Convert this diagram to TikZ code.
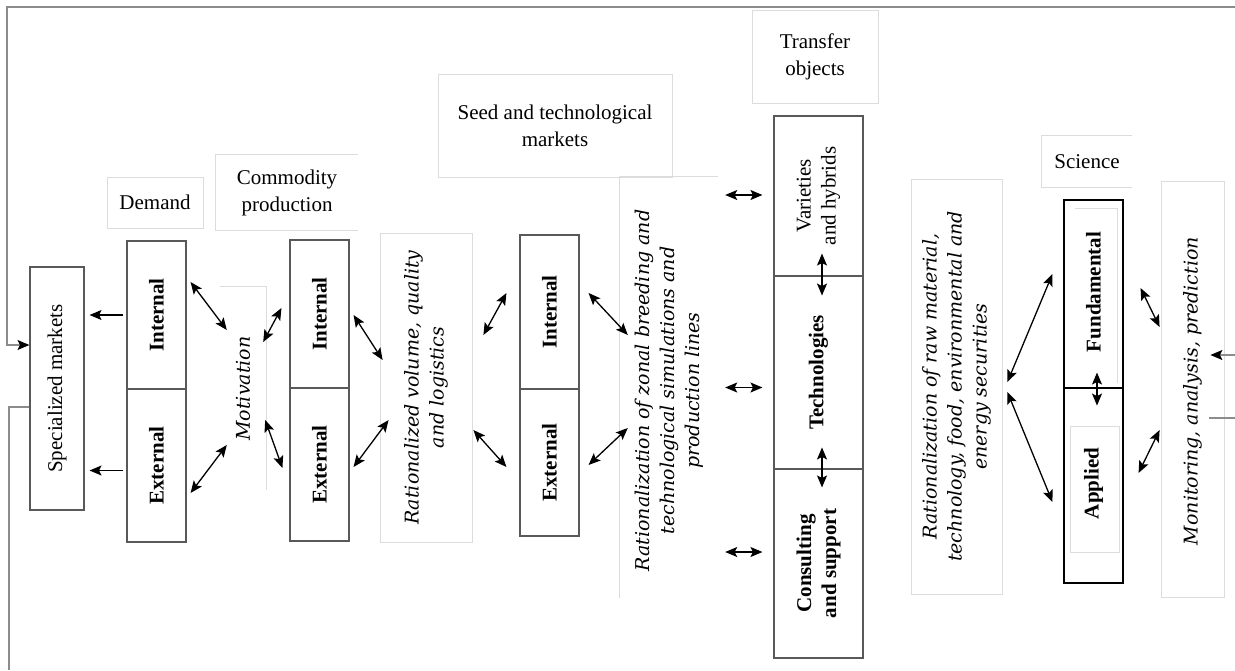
\documentclass[tikz,border=0pt]{standalone}
\usepackage{fontspec}
\setmainfont{Liberation Serif}
\newfontfamily\notefont{DejaVu Serif}
\usepackage{tikz}
\usetikzlibrary{arrows.meta, calc}
\usepackage{xcolor}
\definecolor{cellgray}{HTML}{595959}
\definecolor{tagline}{HTML}{DCDCDC}
\definecolor{frameline}{HTML}{8C8C8C}

\begin{document}
\begin{tikzpicture}[x=1pt, y=-1pt,
  >={Stealth[length=12pt, width=10pt, inset=2.5pt]},
  cell/.style={draw=cellgray, line width=1.1pt, inner sep=0pt},
  tag/.style={draw=tagline, line width=0.8pt, align=center,
    font=\fontsize{21}{27}\selectfont},
  vtext/.style={rotate=90, align=center, font=\fontsize{21}{25}\selectfont},
  vbold/.style={rotate=90, align=center,
    font=\fontsize{21}{25}\selectfont\bfseries},
  vnote/.style={rotate=90, align=center,
    font=\notefont\itshape\fontsize{19}{25}\selectfont},
  faint/.style={draw=tagline, line width=0.8pt},
  link/.style={<->, line width=1.3pt},
  loopline/.style={draw=frameline, line width=1.4pt}]
  \useasboundingbox (0,0) rectangle (1235,670);

  % Headings
  \node[tag, minimum width=96, minimum height=51] (demtag) at (155,202.5)
    {Demand};
  \node[tag, draw=none, minimum width=142, minimum height=75] (comtag)
    at (287,192.5) {Commodity\\production};
  \draw[faint] (comtag.north east) -- (comtag.north west)
    -- (comtag.south west) -- (comtag.south east);
  \node[tag, minimum width=234, minimum height=103] (seedtag) at (555,125.5)
    {Seed and technological\\markets};
  \node[tag, minimum width=126, minimum height=93] (trtag) at (815,56.5)
    {Transfer\\objects};
  \node[tag, draw=none, minimum width=90, minimum height=51] (scitag)
    at (1087,161.5) {Science};
  \draw[faint] (scitag.north east) -- (scitag.north west)
    -- (scitag.south west) -- (scitag.south east);

  % Markets and production
  \node[cell, minimum width=54, minimum height=243,
    label={[vtext]center:Specialized markets}] (spec) at (57,388.5) {};
  \node[cell, minimum width=59, minimum height=148,
    label={[vbold]center:Internal}] (demin) at (156.5,315) {};
  \node[cell, minimum width=59, minimum height=153,
    label={[vbold]center:External}] (demex) at (156.5,465.5) {};
  \node[inner sep=0pt, minimum width=46, minimum height=203,
    label={[vnote]center:Motivation}] (mot) at (243,388.5) {};
  \draw[faint] (mot.north west) -- (mot.north east) -- (mot.south east);
  \node[cell, minimum width=59, minimum height=148,
    label={[vbold]center:Internal}] (comin) at (319.5,314) {};
  \node[cell, minimum width=59, minimum height=153,
    label={[vbold]center:External}] (comex) at (319.5,464.5) {};
  \node[faint, inner sep=0pt, minimum width=92, minimum height=309,
    label={[vnote]center:Rationalized volume, quality\\and logistics}]
    (ratvol) at (426,387.5) {};
  \node[cell, minimum width=59, minimum height=154,
    label={[vbold]center:Internal}] (seedin) at (549.5,312) {};
  \node[cell, minimum width=59, minimum height=147,
    label={[vbold]center:External}] (seedex) at (549.5,462.5) {};
  \node[inner sep=0pt, minimum width=98, minimum height=421,
    label={[vnote, xshift=-3pt]center:Rationalization of zonal breeding and\\
      technological simulations and\\production lines}] (zonal)
    at (669,387.5) {};
  \draw[faint] (zonal.north east) -- (zonal.north west) -- (zonal.south west);

  % Transfer objects
  \node[cell, minimum width=89, minimum height=160,
    label={[vtext]center:Varieties\\and hybrids}] (trvar) at (818.5,196) {};
  \node[cell, minimum width=89, minimum height=193,
    label={[vbold]center:Technologies}] (trtech) at (818.5,372.5) {};
  \node[cell, minimum width=89, minimum height=189,
    label={[vbold]center:Consulting\\and support}] (trcons) at (818.5,563.5) {};

  % Science
  \node[faint, inner sep=0pt, minimum width=91, minimum height=415,
    label={[vnote]center:Rationalization of raw material,\\
      technology, food, environmental and\\energy securities}] (ratsci)
    at (956.5,386.5) {};
  \node[cell, draw=black, minimum width=59, minimum height=188,
    label={[vbold, xshift=2pt]center:Fundamental}] (scfund) at (1093.5,294) {};
  \node[cell, draw=black, minimum width=59, minimum height=195,
    label={[vbold, xshift=2pt]center:Applied}] (scapp) at (1093.5,485.5) {};
  \draw[faint] ($(scfund.north west)+(12,9)$) -| ($(scfund.south east)+(-6,-6)$);
  \draw[faint] ($(scapp.north west)+(7,39)$) rectangle
    ($(scapp.south east)+(-4,-31)$);
  \node[faint, inner sep=0pt, minimum width=63, minimum height=416,
    label={[vnote, xshift=-2pt]center:Monitoring, analysis, prediction}] (mon)
    at (1192.5,389) {};

  % Links
  \draw[->, line width=1.3pt, shorten <=3pt, shorten >=5pt]
    (demin.west) -- (demin.west -| spec.east);
  \draw[->, line width=1.3pt, shorten <=3pt, shorten >=5pt]
    ($(demex.west)+(0,5)$) -- ($(demex.west -| spec.east)+(0,5)$);
  \draw[link] ($(demin.east)+(4,-33)$) -- ($(mot.west)+(7,-58.5)$);
  \draw[link] ($(demex.east)+(4,27.5)$) -- ($(mot.west)+(7,56.5)$);
  \draw[link] ($(mot.east)+(-3,-46.5)$) -- ($(comin.west)+(-8,-6)$);
  \draw[link] ($(mot.east)+(-1,31.5)$) -- ($(comex.west)+(-7,3.5)$);
  \draw[link] ($(comin.east)+(4,1)$) -- ($(ratvol.west)+(3,-27.5)$);
  \draw[link] ($(comex.east)+(4,2.5)$) -- ($(ratvol.west)+(9,32.5)$);
  \draw[link] ($(ratvol.east)+(11,-52.5)$) -- ($(seedin.west)+(-13,-19)$);
  \draw[link] ($(ratvol.east)+(1,42.5)$) -- ($(seedex.west)+(-13,4.5)$);
  \draw[link] ($(seedin.east)+(9,-19)$) -- ($(zonal.west)+(8,-52.5)$);
  \draw[link] ($(seedex.east)+(9,2.5)$) -- ($(zonal.west)+(8,40.5)$);
  \draw[link] ($(zonal.east |- trvar.west)+(7,-1)$) -- ($(trvar.west)+(-11,-1)$);
  \draw[link] ($(zonal.east)+(7,0)$) -- ($(trtech.west |- zonal.east)+(-11,0)$);
  \draw[link] ($(zonal.east |- trcons.west)+(7,-11.5)$)
    -- ($(trcons.west)+(-11,-11.5)$);
  \draw[link] ($(trvar.south)+(3.5,-23)$) -- ($(trvar.south)+(3.5,19)$);
  \draw[link] ($(trcons.north)+(3.5,-21)$) -- ($(trcons.north)+(3.5,19)$);
  \draw[link] ($(ratsci.east)+(5,-4.5)$) -- ($(scfund.west)+(-11,-20)$);
  \draw[link] ($(ratsci.east)+(5,5.5)$) -- ($(scapp.west)+(-11,16.5)$);
  \draw[link] ($(scfund.south)+(3.5,-16)$) -- ($(scfund.south)+(3.5,17)$);
  \draw[link] ($(scfund.east)+(17,-6)$) -- ($(mon.west)+(-1,-62)$);
  \draw[link] ($(scapp.east)+(15,-12.5)$) -- ($(mon.west)+(-1,41)$);

  % Feedback loop
  \coordinate (cornertl) at (7,7);
  \coordinate (edgetop) at (1235,7);
  \coordinate (edgebot) at (9,670);
  \coordinate (edgein) at (1235,355);
  \coordinate (edgeout) at (1235,418);
  \draw[loopline, -{Stealth[length=12pt, width=10pt, inset=2.5pt, black]}]
    (edgetop) -- (cornertl) |- ($(spec.west)+(0,-43.5)$);
  \draw[loopline] ($(spec.west)+(0,18.5)$) -| (edgebot);
  \draw[loopline, -{Stealth[length=12pt, width=10pt, inset=2.5pt, black]}]
    (edgein) -- ($(mon.east)+(-14,-34)$);
  \draw[loopline] (edgeout) -- ($(mon.east)+(-15,29)$);
\end{tikzpicture}
\end{document}
